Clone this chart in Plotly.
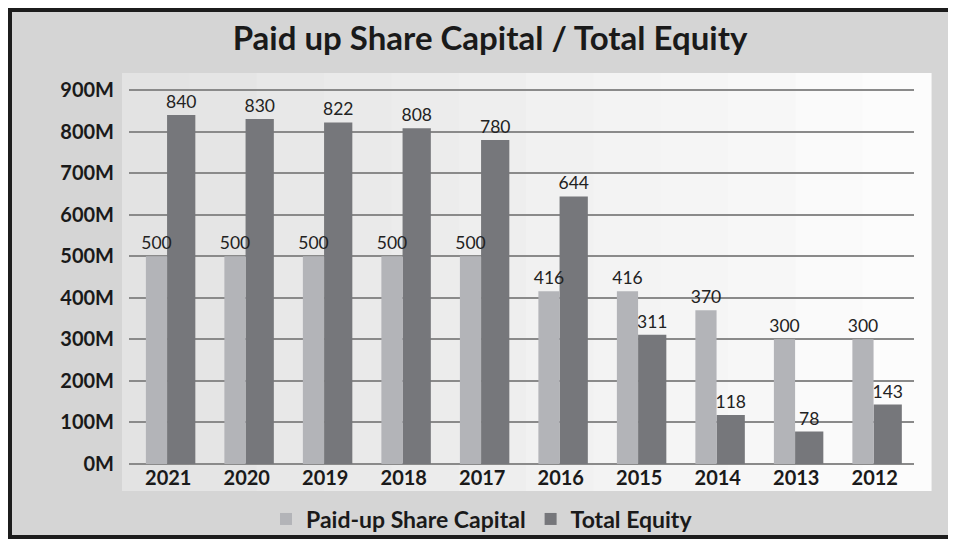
import plotly.graph_objects as go

years = ["2021", "2020", "2019", "2018", "2017", "2016", "2015", "2014", "2013", "2012"]
paid_up = [500, 500, 500, 500, 500, 416, 416, 370, 300, 300]
total_equity = [840, 830, 822, 808, 780, 644, 311, 118, 78, 143]
y_ticks = [0, 100, 200, 300, 400, 500, 600, 700, 800, 900]

FONT = "Lato"
LBL = dict(family=FONT, size=17.5, color="#222222")

fig = go.Figure()
# dark series drawn first so the light series' labels stay on top
fig.add_trace(go.Bar(
    x=years, y=total_equity, name="Total Equity", legendrank=2,
    marker=dict(color="#76777b", line=dict(width=0)),
    offset=-0.015, width=0.36,
    text=[str(v) for v in total_equity], textposition="outside",
    textfont=LBL, constraintext="none", cliponaxis=False,
))
fig.add_trace(go.Bar(
    x=years, y=paid_up, name="Paid-up Share Capital", legendrank=1,
    marker=dict(color="#b3b4b8", line=dict(width=0)),
    offset=-0.285, width=0.27,
    text=[str(v) for v in paid_up], textposition="outside",
    textfont=LBL, constraintext="none", cliponaxis=False,
))

# page is offset by the 8px body margin; work in figure coordinates
OFF = 8
W, H = 940, 531
L, R, T, B = 121, 34, 65, 75
pw, ph = W - L - R, H - T - B

def px(x):  # reference page x -> paper x
    return (x - OFF - L) / pw

def py(y):  # reference page y -> paper y
    return (H - B - (y - OFF)) / ph

shapes = []
# light inner panel with a soft left-to-right gradient
n = 12
x_a, x_b = 122, 930
for i in range(n):
    t = i / (n - 1)
    c = int(round(0xe3 + (0xfc - 0xe3) * t))
    shapes.append(dict(type="rect", xref="paper", yref="paper",
                       x0=px(x_a + (x_b - x_a) * i / n), x1=px(x_a + (x_b - x_a) * (i + 1) / n) + 0.002,
                       y0=py(491), y1=py(73),
                       fillcolor=f"rgb({c},{c},{c})", line=dict(width=0), layer="below"))
# outer frame (left, top, bottom edges visible)
shapes.append(dict(type="rect", xref="paper", yref="paper",
                   x0=px(OFF + 2), x1=px(1000), y0=py(OFF + H - 2), y1=py(OFF + 2),
                   fillcolor="rgba(0,0,0,0)", line=dict(color="#1c1c1c", width=4), layer="above"))

fig.update_layout(
    width=W, height=H,
    margin=dict(l=L, r=R, t=T, b=B, pad=0, autoexpand=False),
    paper_bgcolor="#d5d5d5",
    plot_bgcolor="rgba(0,0,0,0)",
    barmode="overlay",
    title=dict(text="<b>Paid up Share Capital / Total Equity</b>",
               xref="container", x=(490 - OFF) / W, xanchor="center",
               yref="container", y=1 - (38 - OFF) / H, yanchor="middle",
               font=dict(family=FONT, size=33, color="#1a1a1a")),
    xaxis=dict(showgrid=False, showline=False, ticks="",
               tickfont=dict(family=FONT, size=20, color="#1a1a1a", weight="bold")),
    yaxis=dict(range=[0, 941], tickvals=y_ticks, ticktext=[f"{v}M" for v in y_ticks],
               showgrid=True, gridcolor="#8a8a8a", gridwidth=2,
               zeroline=True, zerolinecolor="#8a8a8a", zerolinewidth=2,
               showline=False, ticks="", ticklabelstandoff=14,
               tickfont=dict(family=FONT, size=20, color="#1a1a1a", weight="bold")),
    legend=dict(orientation="h", x=px(482), xanchor="center", y=py(519), yanchor="middle",
                font=dict(family=FONT, size=23, color="#1a1a1a", weight="bold"),
                bgcolor="rgba(0,0,0,0)", itemwidth=30, traceorder="normal"),
    shapes=shapes,
    showlegend=True,
)

fig.write_html("out.html")
